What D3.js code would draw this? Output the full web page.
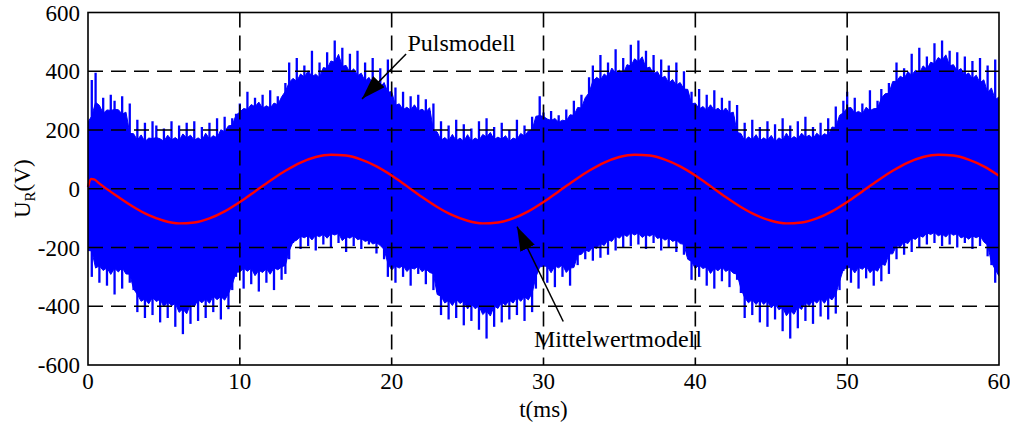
<!DOCTYPE html>
<html>
<head>
<meta charset="utf-8">
<script src="https://cdn.jsdelivr.net/npm/d3@7"></script>
<style>
  body { margin: 0; background: #fff; }
  text { font-family: "Liberation Serif", "Times New Roman", serif; fill: #000; }
</style>
</head>
<body>
<svg id="chart" width="1010" height="426"></svg>
<script>
// tick labels
const xTicks = [0, 10, 20, 30, 40, 50, 60];
const yTicks = [-600, -400, -200, 0, 200, 400, 600];

// Pulsmodell: upper / lower envelope of the switching signal, one value every 0.25 ms (0..60 ms)
const pulsStep = 0.25;
const pulsUpper = [
  180, 370, 395, 250, 310, 245, 320, 300, 250, 315, 240, 290,
  150, 235, 160, 225, 145, 230, 215, 150, 205, 165, 230, 150, 215, 170, 225, 160, 230, 150, 210, 175, 225, 155, 240, 180, 245, 200, 240, 255,
  290, 255, 330, 270, 310, 285, 320, 260, 335, 275, 315, 300,
  360, 430, 345, 445, 370, 420, 380, 470, 360, 430, 395, 465, 410, 505, 440, 480, 395, 460, 380, 470, 365, 430, 350, 445, 340, 410, 330, 440,
  300, 345, 265, 330, 255, 315, 270, 320, 250, 305, 265, 290,
  160, 230, 150, 215, 165, 235, 145, 220, 170, 205, 150, 230, 160, 240, 175, 210, 155, 225, 165, 200, 150, 235, 170, 215, 180, 245, 230, 315,
  260, 225, 265, 230, 250, 220, 270, 235, 300, 260, 320, 290,
  380, 420, 350, 455, 365, 430, 390, 475, 375, 445, 400, 490, 415, 505, 430, 470, 390, 455, 375, 440, 360, 420, 345, 430, 335, 400, 325, 330,
  270, 340, 255, 320, 265, 335, 250, 310, 260, 300, 245, 285,
  155, 225, 150, 235, 165, 210, 150, 230, 160, 220, 145, 240, 170, 215, 155, 230, 165, 245, 160, 210, 175, 225, 165, 240, 185, 280, 230, 300,
  330, 255, 310, 245, 290, 260, 335, 250, 300, 340, 310, 360,
  350, 430, 365, 410, 380, 460, 370, 480, 395, 450, 410, 495, 420, 505, 440, 470, 400, 465, 385, 450, 370, 435, 360, 445, 340, 420, 300, 440,
  270
];
const pulsLower = [
  -180, -300, -250, -320, -255, -330, -265, -360, -250, -340, -270, -320,
  -345, -420, -360, -440, -370, -430, -355, -455, -380, -440, -370, -470, -390, -495, -400, -460, -375, -450, -360, -440, -370, -420, -350, -445, -355, -410, -345, -300,
  -265, -340, -255, -325, -275, -350, -260, -320, -270, -345, -250, -310,
  -290, -240, -185, -165, -205, -150, -195, -160, -210, -145, -190, -155, -200, -140, -185, -165, -215, -150, -195, -160, -205, -170, -190, -180, -220, -175, -240, -300,
  -260, -320, -250, -300, -265, -330, -255, -290, -270, -325, -260, -345,
  -350, -430, -365, -445, -375, -440, -360, -465, -385, -450, -380, -480, -395, -510, -405, -470, -380, -455, -370, -445, -365, -430, -355, -450, -350, -420, -340, -260,
  -250, -320, -265, -335, -245, -300, -270, -330, -255, -260, -210, -240,
  -200, -245, -185, -235, -175, -225, -160, -210, -150, -200, -145, -195, -140, -190, -150, -205, -145, -185, -155, -210, -160, -200, -165, -215, -170, -225, -230, -310,
  -255, -300, -250, -330, -265, -340, -255, -315, -260, -335, -270, -310,
  -355, -440, -365, -430, -370, -455, -360, -470, -380, -445, -385, -485, -400, -510, -395, -475, -385, -450, -370, -460, -360, -435, -365, -445, -350, -425, -345, -280,
  -255, -320, -265, -340, -250, -305, -270, -330, -260, -315, -240, -290,
  -200, -240, -180, -225, -170, -215, -155, -200, -150, -190, -140, -185, -145, -195, -150, -190, -140, -200, -155, -185, -160, -205, -150, -195, -165, -230, -260, -320,
  -290
];

// Mittelwertmodell (red)
const meanT = [0, 0.2, 0.4, 0.7, 1, 2, 3, 4, 5, 6, 7, 8, 9, 10, 11, 12, 13, 14, 15, 16, 17, 18, 19, 20,
  21, 22, 23, 24, 25, 26, 27, 28, 29, 30, 31, 32, 33, 34, 35, 36, 37, 38, 39, 40,
  41, 42, 43, 44, 45, 46, 47, 48, 49, 50, 51, 52, 53, 54, 55, 56, 57, 58, 59, 60];
const meanU = [6, 33, 32, 20, 8, -28, -62, -90, -109, -118, -115, -101, -77, -45, -9, 27, 61, 89, 108, 116, 113, 99, 76, 45,
  9, -28, -62, -90, -109, -118, -115, -101, -77, -45, -9, 27, 61, 89, 108, 116, 113, 99, 76, 45,
  9, -28, -62, -90, -109, -118, -115, -101, -77, -45, -9, 27, 61, 89, 108, 116, 113, 99, 76, 44];

const width = 1010, height = 426;
const margin = {top: 12.5, right: 11, bottom: 61, left: 88};

const svg = d3.select('#chart');

const x = d3.scaleLinear().domain([0, 60]).range([margin.left, width - margin.right]);
const y = d3.scaleLinear().domain([-600, 600]).range([height - margin.bottom, margin.top]);

svg.append('defs').append('clipPath').attr('id', 'plot')
  .append('rect')
  .attr('x', x(0)).attr('y', y(600))
  .attr('width', x(60) - x(0)).attr('height', y(-600) - y(600));

const pulsData = pulsUpper.map((u, i) => ({t: i * pulsStep, hi: u, lo: pulsLower[i]}));

// solid core of the band, between the neighbouring lows and the neighbourhood mean
const n = pulsData.length;
pulsData.forEach((d, i) => {
  const nb = pulsData.slice(Math.max(0, i - 1), Math.min(n, i + 2));
  d.coreHi = (d3.min(nb, e => e.hi) + d3.mean(nb, e => e.hi)) / 2;
  d.coreLo = (d3.max(nb, e => e.lo) + d3.mean(nb, e => e.lo)) / 2;
});

const puls = svg.append('g').attr('clip-path', 'url(#plot)');

puls.append('path')
  .datum(pulsData)
  .attr('d', d3.area()
    .x(d => x(d.t))
    .y0(d => y(d.coreLo))
    .y1(d => y(d.coreHi)))
  .attr('fill', '#0000ff')
  .attr('stroke', '#0000ff')
  .attr('stroke-width', 1);

puls.selectAll('line')
  .data(pulsData)
  .join('line')
  .attr('x1', d => x(d.t)).attr('x2', d => x(d.t))
  .attr('y1', d => y(d.lo)).attr('y2', d => y(d.hi))
  .attr('stroke', '#0000ff')
  .attr('stroke-width', 2.3);

// grid
const grid = svg.append('g')
  .attr('stroke', '#000')
  .attr('stroke-width', 1.6)
  .attr('stroke-dasharray', '15,8');

grid.selectAll('.gx')
  .data(xTicks.slice(1, -1))
  .join('line')
  .attr('x1', d => x(d)).attr('x2', d => x(d))
  .attr('y1', y(600)).attr('y2', y(-600));

grid.selectAll('.gy')
  .data(yTicks.slice(1, -1))
  .join('line')
  .attr('x1', x(0)).attr('x2', x(60))
  .attr('y1', d => y(d)).attr('y2', d => y(d));

// red mean value line
const line = d3.line()
  .x((d, i) => x(meanT[i]))
  .y(d => y(d))
  .curve(d3.curveMonotoneX);

svg.append('path')
  .datum(meanU)
  .attr('d', line)
  .attr('fill', 'none')
  .attr('stroke', '#ff0000')
  .attr('stroke-width', 2.4);

// frame
svg.append('rect')
  .attr('x', x(0)).attr('y', y(600))
  .attr('width', x(60) - x(0)).attr('height', y(-600) - y(600))
  .attr('fill', 'none')
  .attr('stroke', '#000')
  .attr('stroke-width', 1.6);

// tick labels
svg.append('g').selectAll('text')
  .data(xTicks)
  .join('text')
  .attr('x', d => x(d))
  .attr('y', y(-600) + 24)
  .attr('text-anchor', 'middle')
  .attr('font-size', 23)
  .text(d => d);

svg.append('g').selectAll('text')
  .data(yTicks)
  .join('text')
  .attr('x', x(0) - 8)
  .attr('y', d => y(d) + 8)
  .attr('text-anchor', 'end')
  .attr('font-size', 23)
  .text(d => d);

// axis titles
svg.append('text')
  .attr('x', (x(0) + x(60)) / 2)
  .attr('y', 417)
  .attr('text-anchor', 'middle')
  .attr('font-size', 23)
  .text('t(ms)');

const yTitle = svg.append('text')
  .attr('transform', `translate(30,${y(0)}) rotate(-90)`)
  .attr('text-anchor', 'middle')
  .attr('font-size', 23);
yTitle.append('tspan').text('U');
yTitle.append('tspan').attr('font-size', 15).attr('dy', 5).text('R');
yTitle.append('tspan').attr('dy', -5).text('(V)');

// annotations
svg.append('defs').append('marker')
  .attr('id', 'head')
  .attr('markerUnits', 'userSpaceOnUse')
  .attr('viewBox', '0 0 24 16')
  .attr('refX', 24).attr('refY', 8)
  .attr('markerWidth', 24).attr('markerHeight', 16)
  .attr('orient', 'auto')
  .append('path')
  .attr('d', 'M0,0 L24,8 L0,16 Z')
  .attr('fill', '#000');

const notes = [
  {label: 'Pulsmodell', tx: 24.6, ty: 468, from: [20.95, 459], to: [18.05, 306]},
  {label: 'Mittelwertmodell', tx: 34.9, ty: -540, from: [31.3, -452], to: [28.26, -129]}
];

svg.append('g').selectAll('line')
  .data(notes)
  .join('line')
  .attr('x1', d => x(d.from[0])).attr('y1', d => y(d.from[1]))
  .attr('x2', d => x(d.to[0])).attr('y2', d => y(d.to[1]))
  .attr('stroke', '#000')
  .attr('stroke-width', 1.5)
  .attr('marker-end', 'url(#head)');

svg.append('g').selectAll('text')
  .data(notes)
  .join('text')
  .attr('x', d => x(d.tx))
  .attr('y', d => y(d.ty))
  .attr('text-anchor', 'middle')
  .attr('font-size', 24)
  .text(d => d.label);
</script>
</body>
</html>
